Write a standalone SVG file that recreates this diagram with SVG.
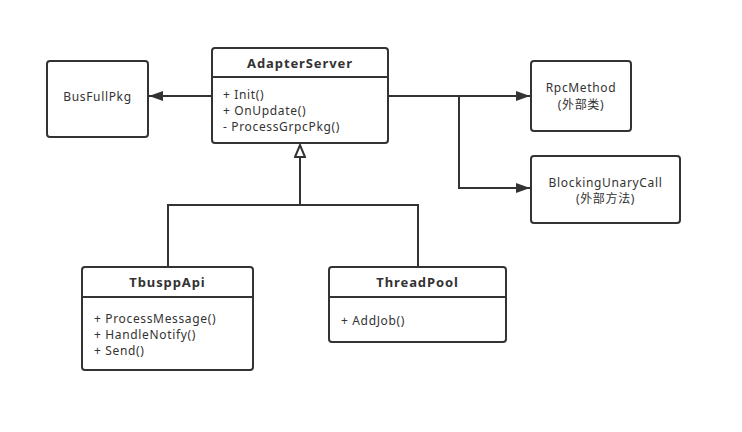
<svg xmlns="http://www.w3.org/2000/svg" width="742" height="432" viewBox="0 0 742 432">
<defs>
<style>
.box{fill:#fff;stroke:#333;stroke-width:2}
.ln{fill:none;stroke:#333;stroke-width:2}
text{font-family:"Noto Sans","Noto Sans CJK SC",sans-serif;font-size:12px;letter-spacing:0.65px;fill:#333}
.t{font-weight:bold;font-size:13px;letter-spacing:0.9px;text-anchor:middle}
.c{text-anchor:middle}
</style>
<marker id="fa" viewBox="0 0 14 10" refX="14" refY="5" markerWidth="14" markerHeight="10" markerUnits="userSpaceOnUse" orient="auto">
<path d="M0,0 L14,5 L0,10 Z" fill="#333"/>
</marker>
<marker id="tri" viewBox="0 0 14 12" refX="13" refY="6" markerWidth="14" markerHeight="12" markerUnits="userSpaceOnUse" orient="auto">
<path d="M1,1 L13,6 L1,11 Z" fill="#fff" stroke="#333" stroke-width="2"/>
</marker>
</defs>
<rect width="742" height="432" fill="#fff"/>
<g id="connectors">
<path class="ln" d="M212,96 H149" marker-end="url(#fa)"/>
<path class="ln" d="M388,96 H530" marker-end="url(#fa)"/>
<path class="ln" d="M459,96 V188 H530" marker-end="url(#fa)"/>
<path class="ln" d="M168,267 V205 H418 V267"/>
<path class="ln" d="M300,205 V145" marker-end="url(#tri)"/>
</g>
<g id="AdapterServer">
<rect class="box" x="212" y="48" width="176" height="95" rx="3"/>
<line class="ln" x1="212" y1="77" x2="388" y2="77"/>
<text class="t" x="300" y="68">AdapterServer</text>
<text x="223" y="99">+ Init()</text>
<text x="223" y="115">+ OnUpdate()</text>
<text x="223" y="131">- ProcessGrpcPkg()</text>
</g>
<g id="BusFullPkg">
<rect class="box" x="47" y="61" width="101" height="76" rx="3"/>
<text class="c" x="97.5" y="101">BusFullPkg</text>
</g>
<g id="RpcMethod">
<rect class="box" x="531" y="61" width="100" height="70" rx="3"/>
<text class="c" x="581" y="92">RpcMethod</text>
<text class="c" x="581" y="109">(外部类)</text>
</g>
<g id="BlockingUnaryCall">
<rect class="box" x="531" y="156" width="149" height="67" rx="3"/>
<text class="c" x="605.5" y="187">BlockingUnaryCall</text>
<text class="c" x="605.5" y="203">(外部方法)</text>
</g>
<g id="TbusppApi">
<rect class="box" x="82" y="267" width="171" height="103" rx="3"/>
<line class="ln" x1="82" y1="297" x2="253" y2="297"/>
<text class="t" x="167.5" y="287">TbusppApi</text>
<text x="94" y="323">+ ProcessMessage()</text>
<text x="94" y="339">+ HandleNotify()</text>
<text x="94" y="355">+ Send()</text>
</g>
<g id="ThreadPool">
<rect class="box" x="329" y="267" width="177" height="75" rx="3"/>
<line class="ln" x1="329" y1="297" x2="506" y2="297"/>
<text class="t" x="417.5" y="287">ThreadPool</text>
<text x="341" y="325">+ AddJob()</text>
</g>
</svg>
